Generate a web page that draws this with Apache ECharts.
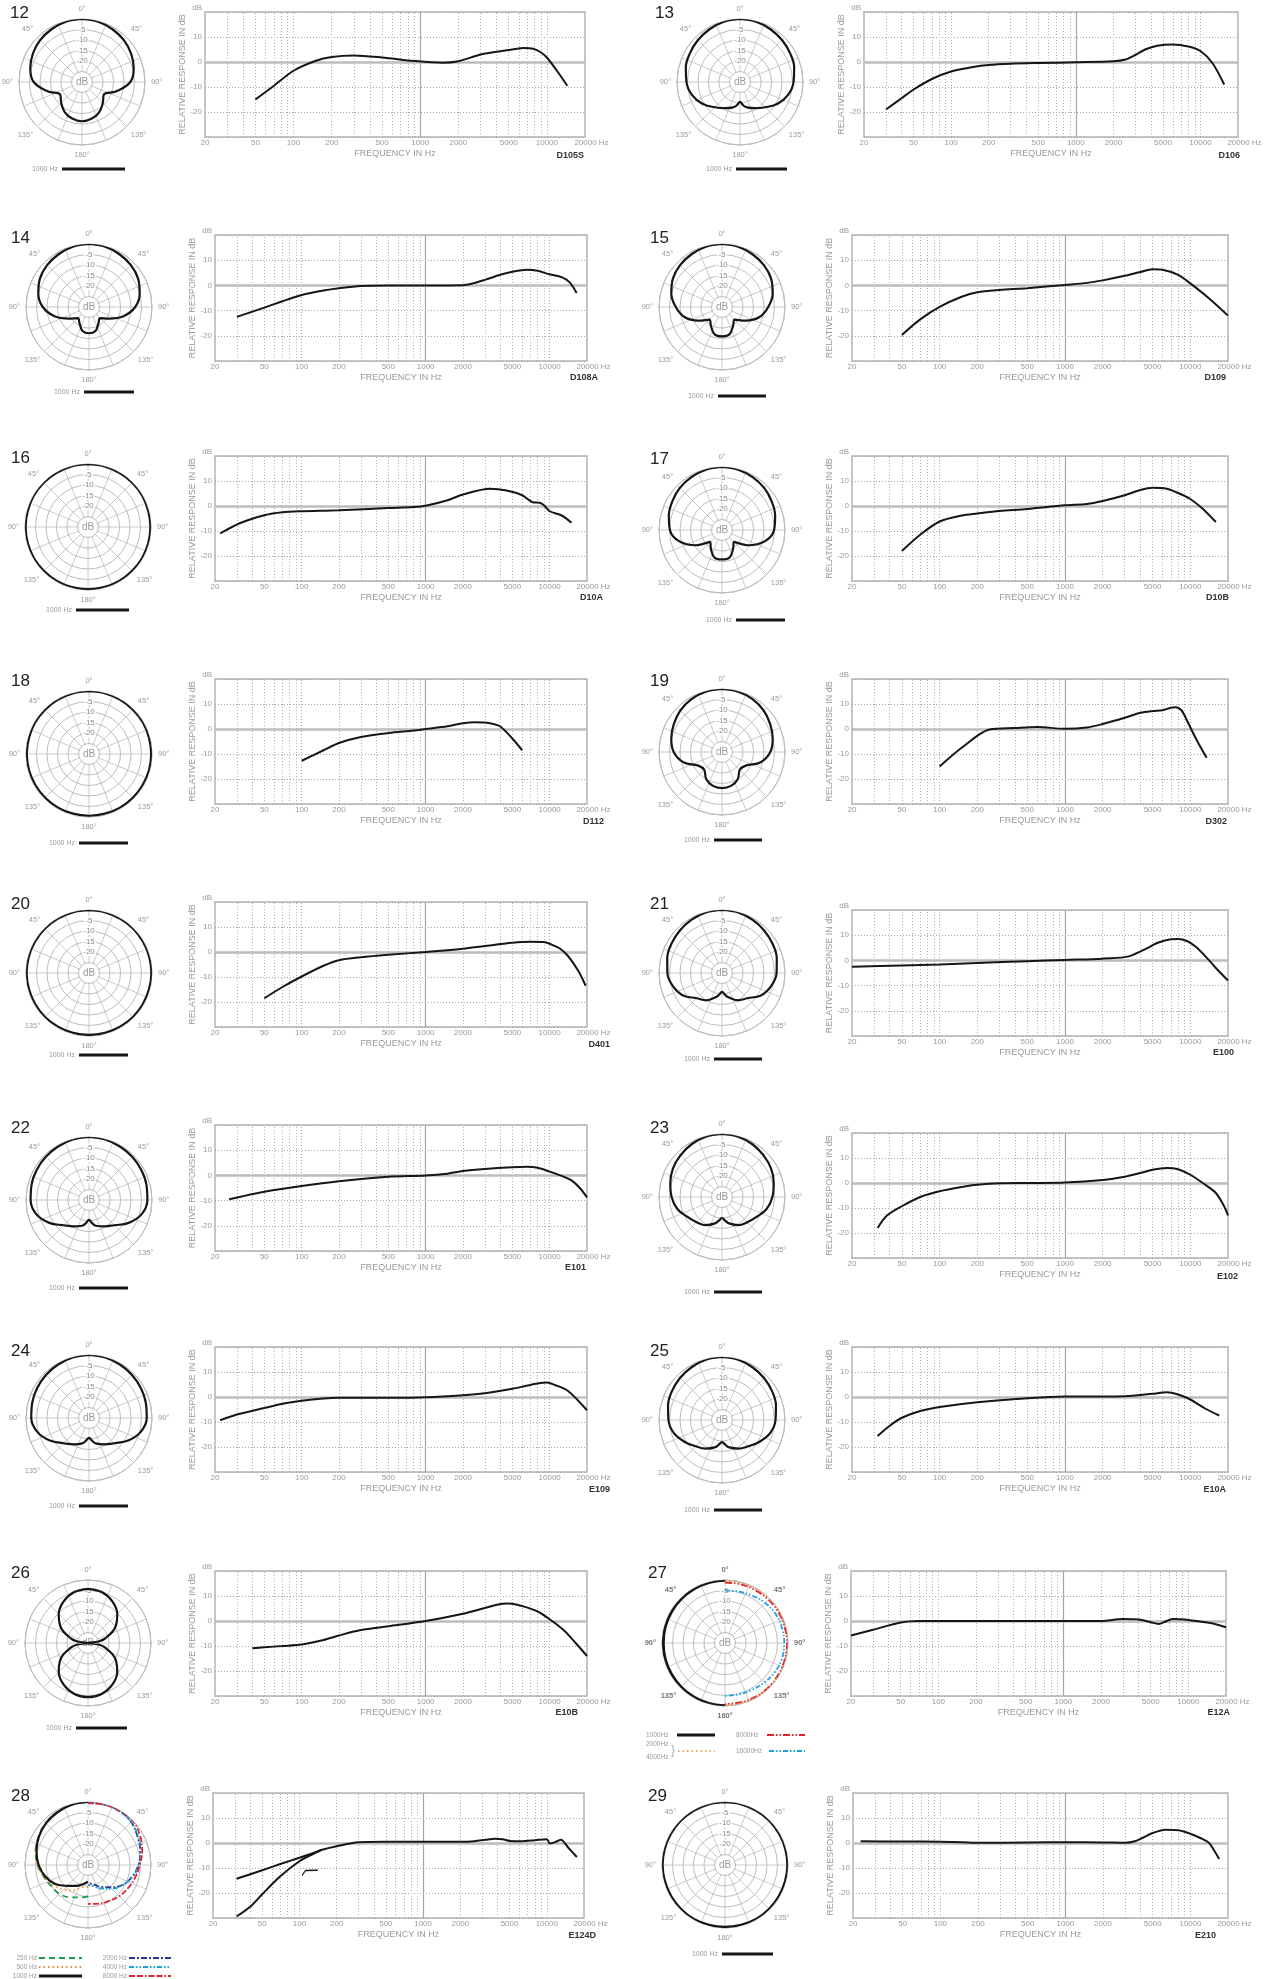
<!DOCTYPE html>
<html>
<head>
<meta charset="utf-8">
<script src="https://cdn.jsdelivr.net/npm/echarts@6/dist/echarts.min.js"></script>
<style>
  html, body { margin: 0; padding: 0; background: #fff; }
  #c { width: 1276px; height: 1979px; }
</style>
</head>
<body>
<div id="c"></div>
<script>
// ---- axis ticks ----
const tickFreqs = [20, 50, 100, 200, 500, 1000, 2000, 5000, 10000, 20000];
const gridFreqs = [30, 40, 50, 60, 70, 80, 90, 100, 200, 300, 400, 500, 600, 700, 800, 900,
  1000, 2000, 3000, 4000, 5000, 6000, 7000, 8000, 9000, 10000];

// ---- frequency responses (Hz / dB) and polar halves ([angle, dB], 0..180) ----
const d105sFreq = [50, 70, 100, 150, 200, 300, 500, 900, 1500, 2000, 3000, 4000, 5800, 6500, 7800, 9000, 10000, 12000, 14500];
const d105sDb = [-15, -9.5, -3.5, 0.5, 2, 2.6, 1.8, 0.4, -0.3, 0.3, 3, 4.1, 5.3, 5.6, 5.3, 3.8, 1.8, -3.5, -9.5];
const d105sPolar = [[0, 0], [15, -0.3], [30, -1], [45, -1.8], [60, -3], [75, -4.5], [90, -7], [105, -13], [120, -18], [135, -16], [150, -13.5], [165, -12], [180, -11.3]];

const d106Freq = [30, 40, 50, 70, 100, 150, 200, 300, 500, 1000, 2000, 2500, 3000, 3600, 4500, 6000, 8000, 10000, 12500, 15500];
const d106Db = [-19, -14.5, -11, -6.8, -3.8, -2, -1.2, -0.7, -0.4, -0.1, 0.3, 1, 2.8, 5, 6.5, 7, 6.2, 4.4, -0.5, -9];
const d106Polar = [[0, 0], [15, -0.3], [30, -1], [45, -1.7], [60, -2.5], [75, -3.3], [90, -4.5], [105, -6.3], [120, -9.3], [135, -13], [150, -15.6], [165, -17.5], [172, -18.7], [180, -20.5]];

const d108aFreq = [30, 50, 70, 100, 150, 200, 300, 500, 1000, 2000, 2400, 3000, 4000, 5000, 6500, 8000, 10000, 12500, 14500, 16500];
const d108aDb = [-12.5, -8.8, -6.3, -3.8, -2, -1.1, -0.2, 0, 0, 0.1, 0.8, 2.2, 4.2, 5.4, 6.2, 5.8, 4.4, 3.3, 1.2, -3];
const d108aPolar = [[0, 0], [15, -0.3], [30, -1], [45, -1.8], [60, -3], [75, -5], [90, -8], [105, -13], [120, -19], [135, -22.5], [150, -21], [165, -18.2], [180, -17.5]];

const d109Freq = [50, 70, 100, 150, 200, 300, 500, 1000, 1500, 2000, 3000, 4000, 5000, 6000, 8000, 10000, 14000, 20000];
const d109Db = [-19.7, -13.5, -8.5, -4.5, -2.7, -1.8, -1.1, 0.2, 1, 2, 3.8, 5.3, 6.4, 6.2, 4.2, 0.8, -5, -12];
const d109Polar = [[0, 0], [15, -0.3], [30, -1], [45, -1.8], [60, -3], [75, -5], [90, -8], [105, -11.5], [120, -17], [135, -21.5], [150, -19.5], [165, -16.5], [180, -16]];

const d10aFreq = [22, 32, 50, 70, 100, 200, 500, 800, 1000, 1500, 2000, 3300, 4500, 6000, 7300, 8300, 9000, 10000, 12500, 15000];
const d10aDb = [-11, -6.8, -3.7, -2.5, -2.1, -1.7, -0.8, -0.4, 0.1, 2.3, 4.6, 6.9, 6.2, 4.3, 1.5, 1.3, 0.3, -2.1, -3.8, -6.7];
const d10aPolar = [[0, -0.1], [15, -0.1], [30, -0.2], [45, -0.2], [60, -0.2], [75, -0.3], [90, -0.3], [105, -0.3], [120, -0.3], [135, -0.4], [150, -0.4], [165, -0.4], [180, -0.4]];

const d10bFreq = [50, 70, 100, 150, 200, 300, 500, 1000, 1500, 2000, 3000, 4000, 5000, 6500, 8000, 10000, 12500, 16000];
const d10bDb = [-18, -11.5, -6.2, -3.8, -3, -2, -1.2, 0.3, 0.8, 2, 4.3, 6.4, 7.3, 6.9, 5.2, 2.8, -1, -6.4];
const d10bPolar = [[0, 0], [15, -0.3], [30, -0.9], [45, -1.6], [60, -2.7], [75, -3.8], [90, -5.2], [105, -9], [120, -15.5], [135, -22], [150, -19.5], [165, -16.4], [180, -16]];

const d112Freq = [100, 150, 200, 300, 500, 800, 1000, 1500, 2000, 2500, 3000, 3500, 4000, 5000, 6000];
const d112Db = [-12.7, -8.5, -5.6, -3.2, -1.6, -0.6, 0, 1.1, 2.3, 2.7, 2.6, 2, 1, -3.8, -8.5];
const d112Polar = [[0, -0.1], [15, -0.1], [30, -0.2], [45, -0.3], [60, -0.3], [75, -0.4], [90, -0.4], [105, -0.4], [120, -0.5], [135, -0.5], [150, -0.5], [165, -0.6], [180, -0.6]];

const d302Freq = [100, 150, 250, 400, 600, 1000, 1500, 2000, 3000, 4000, 5000, 6000, 7000, 7600, 8500, 9500, 10700, 12000, 13500];
const d302Db = [-15, -7.5, -0.2, 0.4, 0.8, 0.1, 0.6, 2, 4.5, 6.5, 7.2, 7.5, 8.5, 8.7, 7.5, 3, -2.3, -7, -11.5];
const d302Polar = [[0, 0], [15, -0.3], [30, -0.9], [45, -2], [60, -3.5], [75, -5], [90, -7], [105, -11], [120, -17], [135, -18], [150, -15], [165, -13.3], [180, -12.8]];

const d401Freq = [50, 70, 100, 150, 200, 300, 500, 1000, 2000, 3000, 5000, 7000, 9000, 10000, 12000, 14000, 17000, 19500];
const d401Db = [-18.5, -14, -9.8, -5.5, -3.3, -2.1, -1.1, 0, 1.3, 2.4, 3.7, 4.1, 4, 3.3, 1.5, -1.5, -7.5, -13.5];
const d401Polar = [[0, -0.1], [15, -0.1], [30, -0.2], [45, -0.2], [60, -0.3], [75, -0.3], [90, -0.3], [105, -0.4], [120, -0.4], [135, -0.4], [150, -0.5], [165, -0.5], [180, -0.5]];

const e100Freq = [20, 50, 100, 200, 500, 1000, 2000, 3000, 3500, 4500, 5500, 7000, 8000, 9500, 11000, 13000, 16000, 20000];
const e100Db = [-2.5, -2, -1.6, -1, -0.3, 0.2, 0.7, 1.3, 2.2, 4.8, 7, 8.4, 8.5, 7.6, 5.5, 2, -3, -8];
const e100Polar = [[0, 0], [15, -0.2], [30, -0.8], [45, -1.5], [60, -2.2], [75, -3], [90, -4], [105, -5.8], [120, -8.6], [135, -13], [150, -15], [165, -18], [172, -19.5], [180, -21]];

const e101Freq = [26, 50, 100, 200, 500, 1000, 1500, 2000, 3000, 5000, 6500, 8000, 10000, 12500, 15000, 17500, 20000];
const e101Db = [-9.5, -6.5, -4.2, -2.3, -0.5, 0, 0.7, 1.7, 2.5, 3.2, 3.4, 3, 1.5, -0.2, -2, -5, -8.7];
const e101Polar = [[0, 0], [15, -0.2], [30, -0.6], [45, -0.9], [60, -1.3], [75, -1.7], [90, -2.2], [105, -4], [120, -8.2], [135, -13], [150, -15.5], [165, -17.3], [172, -18.8], [180, -20.5]];

const e102Freq = [32, 38, 50, 70, 100, 150, 200, 300, 500, 1000, 2000, 3000, 4000, 5000, 6500, 8000, 10000, 13000, 16000, 18500, 20000];
const e102Db = [-18, -13, -9.3, -5.6, -3.3, -1.6, -0.7, -0.1, 0, 0.2, 1.2, 2.5, 4, 5.3, 6, 5.5, 3.3, -0.5, -4, -9, -13];
const e102Polar = [[0, 0], [15, -0.3], [30, -1], [45, -2], [60, -3], [75, -4.5], [90, -6], [105, -8], [120, -11], [135, -13], [150, -14.5], [165, -17], [172, -18.5], [180, -20]];

const e109Freq = [22, 30, 50, 70, 100, 150, 200, 500, 1000, 2000, 3000, 5000, 6500, 8000, 9500, 11000, 14000, 20000];
const e109Db = [-9.3, -7, -4.4, -2.7, -1.5, -0.6, -0.3, -0.3, -0.1, 0.7, 1.5, 3.3, 4.5, 5.4, 5.8, 4.8, 2.5, -5.3];
const e109Polar = [[0, 0], [15, -0.2], [30, -0.6], [45, -1], [60, -1.5], [75, -2], [90, -2.5], [105, -4.5], [120, -8.5], [135, -13], [150, -15.5], [165, -17.5], [172, -19], [180, -20.5]];

const e10aFreq = [32, 40, 50, 70, 100, 200, 500, 1000, 2000, 3000, 5000, 6500, 8000, 10000, 13000, 17000];
const e10aDb = [-15.6, -11.5, -8.3, -5.6, -4, -2.1, -0.5, 0.2, 0.2, 0.3, 1.3, 1.9, 1, -1, -4.5, -7.4];
const e10aPolar = [[0, 0], [15, -0.3], [30, -1], [45, -1.7], [60, -2.5], [75, -3.4], [90, -4.5], [105, -6.2], [120, -9.3], [135, -12.3], [150, -14.3], [165, -16.5], [172, -18], [180, -19.5]];

const e10bFreq = [40, 50, 70, 100, 150, 200, 300, 500, 1000, 2000, 3000, 4000, 4500, 5000, 6000, 8000, 10000, 13000, 16000, 20000];
const e10bDb = [-10.9, -10.5, -10, -9.4, -7.6, -5.8, -3.6, -2.1, 0, 2.9, 5.2, 6.8, 7, 6.9, 6, 3.8, 0.7, -3.7, -8.5, -14];
const e10bPolar = [[0, -4.2], [15, -4.9], [30, -7], [45, -10.3], [60, -15], [75, -21.5], [82, -25], [90, -30], [98, -25], [105, -21.5], [120, -15], [135, -10.3], [150, -7], [165, -4.9], [180, -4.2]];

const e12aFreq = [20, 30, 50, 70, 100, 1000, 2000, 3000, 4000, 5000, 5800, 6500, 7500, 8500, 10000, 15000, 20000];
const e12aDb = [-5.8, -3.5, -0.6, 0, 0, 0, 0, 0.8, 0.6, -0.5, -1.2, -0.3, 0.8, 0.7, 0.4, -0.8, -2.5];
const e12aPolar1000 = [[0, -0.1], [15, -0.2], [30, -0.3], [45, -0.4], [60, -0.5], [75, -0.5], [90, -0.6], [105, -0.5], [120, -0.5], [135, -0.4], [150, -0.3], [165, -0.2], [180, -0.1]];
const e12aPolar2k4k = [[0, -0.4], [15, -0.4], [30, -0.3], [45, -0.3], [60, -0.2], [75, -0.2], [90, -0.2], [105, -0.2], [120, -0.2], [135, -0.3], [150, -0.3], [165, -0.4], [180, -0.4]];
const e12aPolar8k = [[0, -1.2], [15, -1.1], [30, -1], [45, -0.8], [60, -0.7], [75, -0.6], [90, -0.5], [105, -0.5], [120, -0.5], [135, -0.5], [150, -0.6], [165, -0.8], [180, -0.9]];
const e12aPolar16k = [[0, -5], [15, -4.7], [30, -4], [45, -3], [60, -2.2], [75, -1.9], [90, -1.8], [105, -1.9], [120, -2.5], [135, -3.5], [150, -4.3], [165, -4.7], [180, -4.8]];

const e124dFreq = [31, 50, 70, 100, 130, 150, 200, 300, 500, 1000, 2000, 2600, 3200, 3800, 4400, 5000, 6300, 8000, 10000, 10600, 12000, 13000, 15000, 17500];
const e124dDb = [-14.3, -10.9, -8.4, -5.9, -4, -2.8, -1.3, 0.3, 0.5, 0.5, 0.5, 0.7, 1.3, 1.7, 1.5, 0.8, 0.7, 1.1, 1.5, -0.2, 0.6, 1.3, -2, -5.6];
const e124dLowFreq = [31, 40, 50, 70, 100, 130, 150];
const e124dLowDb = [-29.4, -25.5, -20.5, -13.3, -7.3, -4.3, -2.8];
const e124dFragFreq = [105, 112, 141];
const e124dFragDb = [-13, -11, -10.9];
const e124dPolar250 = [[0, 0], [15, -0.2], [30, -0.8], [45, -1.6], [60, -2.8], [75, -4.2], [90, -6], [105, -8.2], [120, -9.8], [135, -10.6], [150, -12.3], [165, -14], [180, -15]];
const e124dPolar500 = [[0, 0], [15, -0.2], [30, -0.9], [45, -1.7], [60, -2.9], [75, -4.2], [90, -5.8], [105, -8.3], [120, -11], [135, -13.5], [150, -16], [165, -19], [180, -19.5]];
const e124dPolar1000 = [[0, 0], [15, -0.3], [30, -1], [45, -1.8], [60, -3], [75, -4.6], [90, -6.5], [105, -9], [120, -12], [135, -16], [150, -18.5], [165, -20.5], [180, -22]];
const e124dPolar2000 = [[0, 0], [15, 0], [30, -0.2], [45, -1], [60, -2.8], [75, -4.3], [90, -6], [105, -8.3], [120, -11], [135, -15], [150, -18], [165, -20.5], [180, -21.5]];
const e124dPolar4000 = [[0, -0.5], [15, -0.3], [30, -0.5], [45, -1], [60, -2.5], [75, -4], [90, -5.8], [105, -8], [120, -11], [135, -14], [150, -17], [165, -19.5], [180, -20.5]];
const e124dPolar8000 = [[0, -0.5], [15, -0.3], [30, -0.1], [45, 0], [60, -1.5], [75, -3.3], [90, -5.3], [105, -6.8], [120, -8], [135, -9], [150, -10.2], [165, -11], [180, -11.5]];

const e210Freq = [23, 50, 100, 150, 200, 500, 1000, 2000, 3000, 3600, 4200, 5000, 6300, 8000, 10000, 12000, 14000, 15500, 17000];
const e210Db = [0.7, 0.6, 0.5, 0.3, 0.1, 0.2, 0.3, 0.2, 0.1, 0.7, 2.2, 4, 5.3, 5.1, 3.7, 2, 0.2, -3, -6.4];
const e210Polar = [[0, -0.1], [15, -0.1], [30, -0.2], [45, -0.2], [60, -0.3], [75, -0.3], [90, -0.3], [105, -0.4], [120, -0.4], [135, -0.4], [150, -0.4], [165, -0.5], [180, -0.5]];

const panels = [
  {n: '12', m: 'D105S', f: d105sFreq, v: d105sDb, pol: d105sPolar},
  {n: '13', m: 'D106', f: d106Freq, v: d106Db, pol: d106Polar},
  {n: '14', m: 'D108A', f: d108aFreq, v: d108aDb, pol: d108aPolar},
  {n: '15', m: 'D109', f: d109Freq, v: d109Db, pol: d109Polar},
  {n: '16', m: 'D10A', f: d10aFreq, v: d10aDb, pol: d10aPolar},
  {n: '17', m: 'D10B', f: d10bFreq, v: d10bDb, pol: d10bPolar},
  {n: '18', m: 'D112', f: d112Freq, v: d112Db, pol: d112Polar},
  {n: '19', m: 'D302', f: d302Freq, v: d302Db, pol: d302Polar},
  {n: '20', m: 'D401', f: d401Freq, v: d401Db, pol: d401Polar},
  {n: '21', m: 'E100', f: e100Freq, v: e100Db, pol: e100Polar},
  {n: '22', m: 'E101', f: e101Freq, v: e101Db, pol: e101Polar},
  {n: '23', m: 'E102', f: e102Freq, v: e102Db, pol: e102Polar},
  {n: '24', m: 'E109', f: e109Freq, v: e109Db, pol: e109Polar},
  {n: '25', m: 'E10A', f: e10aFreq, v: e10aDb, pol: e10aPolar},
  {n: '26', m: 'E10B', f: e10bFreq, v: e10bDb, pol: e10bPolar},
  {n: '27', m: 'E12A', f: e12aFreq, v: e12aDb, pol: null},
  {n: '28', m: 'E124D', f: e124dFreq, v: e124dDb, pol: null},
  {n: '29', m: 'E210', f: e210Freq, v: e210Db, pol: e210Polar}
];

// page positions: g = chart frame [x1,y1,x2,y2], p = polar centre, leg = [lineX1, lineX2, y]
const layout = [
  {g: [205, 12, 585, 137], p: [82, 82], num: [10, 5], model: [584, 156], leg: [62, 125, 169]},
  {g: [864, 12, 1238, 137], p: [740, 82], num: [655, 5], model: [1240, 156], leg: [736, 787, 169]},
  {g: [215, 235, 587, 361], p: [89, 307], num: [11, 230], model: [598, 378], leg: [84, 134, 392]},
  {g: [852, 235, 1228, 361], p: [722, 307], num: [650, 230], model: [1226, 378], leg: [718, 766, 396]},
  {g: [215, 456, 587, 581], p: [88, 527], num: [11, 450], model: [603, 598], leg: [76, 129, 610]},
  {g: [852, 456, 1228, 581], p: [722, 530], num: [650, 451], model: [1229, 598], leg: [736, 785, 620]},
  {g: [215, 679, 587, 804], p: [89, 754], num: [11, 673], model: [604, 822], leg: [79, 128, 843]},
  {g: [852, 679, 1228, 804], p: [722, 752], num: [650, 673], model: [1227, 822], leg: [714, 762, 840]},
  {g: [215, 902, 587, 1027], p: [89, 973], num: [11, 896], model: [610, 1045], leg: [79, 128, 1055]},
  {g: [852, 910, 1228, 1036], p: [722, 973], num: [650, 896], model: [1234, 1053], leg: [714, 762, 1059]},
  {g: [215, 1125, 587, 1251], p: [89, 1200], num: [11, 1120], model: [586, 1268], leg: [79, 128, 1288]},
  {g: [852, 1133, 1228, 1258], p: [722, 1197], num: [650, 1120], model: [1238, 1277], leg: [714, 762, 1292]},
  {g: [215, 1347, 587, 1472], p: [89, 1418], num: [11, 1343], model: [610, 1490], leg: [79, 128, 1506]},
  {g: [852, 1347, 1228, 1472], p: [722, 1420], num: [650, 1343], model: [1226, 1490], leg: [714, 762, 1510]},
  {g: [215, 1571, 587, 1696], p: [88, 1643], num: [11, 1565], model: [578, 1713], leg: [76, 127, 1728]},
  {g: [851, 1571, 1226, 1696], p: [725, 1643], num: [648, 1565], model: [1230, 1713], leg: null},
  {g: [213, 1793, 584, 1918], p: [88, 1865], num: [11, 1788], model: [596, 1936], leg: null},
  {g: [853, 1793, 1228, 1918], p: [725, 1865], num: [648, 1788], model: [1216, 1936], leg: [722, 773, 1954]}
];

const FONT = '"Liberation Sans", Arial, Helvetica, sans-serif';
const GREY = '#9a9a9a';
const INK = '#161616';
const R = 63;

const grids = [], xAxes = [], yAxes = [], polars = [], angleAxes = [], radiusAxes = [], series = [], graphics = [];

// half pattern -> [dB, angle] pairs for ECharts polar
function mirror(half) {
  const a = half.map(p => [p[1], p[0]]);
  const b = half.slice(0, -1).reverse().map(p => [p[1], 360 - p[0]]);
  return a.concat(b);
}
// left side, walked from 180 up to 360
function leftHalf(half) { return half.slice().reverse().map(p => [p[1], 360 - p[0]]); }
function rightHalf(half) { return half.map(p => [p[1], p[0]]); }
function pairs(f, v) { return f.map((x, k) => [x, v[k]]); }

function text(x, y, str, st) {
  graphics.push({type: 'text', x: x, y: y, silent: true,
    style: Object.assign({text: str, fontFamily: FONT, fontSize: 7, fill: GREY, align: 'left', verticalAlign: 'middle'}, st || {})});
}
function hline(x1, x2, y, color, w, dash) {
  graphics.push({type: 'line', silent: true, shape: {x1: x1, y1: y, x2: x2, y2: y},
    style: {stroke: color, lineWidth: w, lineDash: dash || null}});
}

function tickLabel(f) {
  if (!tickFreqs.includes(f)) return {show: false};
  const lab = {show: true, position: 'start', distance: 2, color: GREY, fontSize: 8, fontFamily: FONT, formatter: String(f)};
  if (f === 20000) { lab.formatter = '20000 Hz'; lab.padding = [0, 0, 0, 13]; }
  return lab;
}

function addPolarCurve(i, data, color, width, dash, z) {
  series.push({type: 'line', coordinateSystem: 'polar', polarIndex: i, data: data, showSymbol: false,
    smooth: 0.4, clip: false, silent: true, z: z || 10, animation: false,
    lineStyle: {color: color, width: width, type: dash || 'solid'}});
}

panels.forEach((pn, i) => {
  const L = layout[i];
  const [x1, y1, x2, y2] = L.g;

  // ---------- frequency response ----------
  grids.push({left: x1, top: y1, width: x2 - x1, height: y2 - y1, show: true,
    borderColor: '#b4b4b4', borderWidth: 1.5, backgroundColor: 'transparent'});
  xAxes.push({gridIndex: i, type: 'log', logBase: 10, min: 20, max: 20000,
    name: 'FREQUENCY IN Hz', nameLocation: 'middle', nameGap: 12,
    nameTextStyle: {color: GREY, fontSize: 9, fontFamily: FONT},
    axisLine: {show: false}, axisTick: {show: false}, axisLabel: {show: false}, splitLine: {show: false}});
  yAxes.push({gridIndex: i, type: 'value', min: -30, max: 20, interval: 10,
    name: 'RELATIVE RESPONSE IN dB', nameLocation: 'middle', nameGap: 15,
    nameTextStyle: {color: GREY, fontSize: 9, fontFamily: FONT},
    axisLine: {show: false}, axisTick: {show: false},
    axisLabel: {fontSize: 8, color: GREY, fontFamily: FONT, margin: 3,
      formatter: v => v === 20 ? '{d|dB}' : (v === -30 ? '' : String(v)),
      rich: {d: {fontSize: 8, color: GREY, fontFamily: FONT, padding: [0, 0, 9, 0]}}},
    splitLine: {lineStyle: {color: '#a8a8a8', type: [1, 2], width: 1}}});

  const marks = [20].concat(gridFreqs, [20000]).map(f => {
    const edge = f === 20 || f === 20000;
    return {xAxis: f, label: tickLabel(f),
      lineStyle: {color: edge ? 'rgba(0,0,0,0)' : (f === 1000 ? '#a6a6a6' : '#b0b0b0'),
        width: f === 1000 ? 1.2 : 1, type: f === 1000 ? 'solid' : [1, 2]}};
  });
  marks.push({yAxis: 0, label: {show: false}, lineStyle: {color: '#bdbdbd', width: 2.5, type: 'solid'}});
  series.push({type: 'line', xAxisIndex: i, yAxisIndex: i, data: [], silent: true, animation: false,
    markLine: {silent: true, symbol: ['none', 'none'], animation: false, data: marks}});

  series.push({type: 'line', xAxisIndex: i, yAxisIndex: i, data: pairs(pn.f, pn.v), showSymbol: false,
    smooth: 0.3, silent: true, z: 10, animation: false, lineStyle: {color: INK, width: 2}});
  if (pn.n === '28') {
    series.push({type: 'line', xAxisIndex: i, yAxisIndex: i, data: pairs(e124dLowFreq, e124dLowDb), showSymbol: false,
      smooth: 0.3, silent: true, z: 10, animation: false, lineStyle: {color: INK, width: 2}});
    series.push({type: 'line', xAxisIndex: i, yAxisIndex: i, data: pairs(e124dFragFreq, e124dFragDb), showSymbol: false,
      silent: true, z: 10, animation: false, lineStyle: {color: INK, width: 1.3}});
  }

  // ---------- polar ----------
  const strong = pn.n === '27';
  polars.push({center: L.p, radius: R});
  angleAxes.push({polarIndex: i, type: 'value', min: 0, max: 360, interval: 22.5, startAngle: 90, clockwise: true, z: 0,
    axisLine: {lineStyle: {color: '#b4b4b4', width: 1}}, axisTick: {show: false},
    splitLine: {lineStyle: {color: '#bdbdbd', width: 0.8}},
    axisLabel: {margin: 6, fontSize: 7.5, fontFamily: FONT, color: strong ? '#777' : GREY, fontWeight: strong ? 'bold' : 'normal',
      formatter: v => (v % 45) ? '' : (v <= 180 ? v : 360 - v) + '°'}});
  radiusAxes.push({polarIndex: i, type: 'value', min: -30, max: 0, interval: 5, z: 1,
    axisLine: {show: false}, axisTick: {show: false},
    splitLine: {lineStyle: {color: '#bdbdbd', width: 1}},
    axisLabel: {margin: 0, align: 'center', verticalAlign: 'middle',
      formatter: v => v === -30 ? '{c|dB}' : (v < 0 && v > -25 ? '{n|' + v + '}' : ''),
      rich: {
        n: {fontSize: 8, color: '#8a8a8a', fontFamily: FONT, backgroundColor: '#fff', padding: [0, 1]},
        c: {fontSize: 10, color: GREY, fontFamily: FONT, backgroundColor: '#fff', width: 19, height: 19,
          lineHeight: 19, borderRadius: 10, align: 'center'}
      }}});

  if (pn.pol) {
    addPolarCurve(i, mirror(pn.pol), INK, 2.2);
  } else if (pn.n === '27') {
    addPolarCurve(i, rightHalf(e12aPolar2k4k), '#f08a2c', 1.8, [1.5, 3], 11);
    addPolarCurve(i, rightHalf(e12aPolar8k), '#e3212b', 1.8, [7, 2, 1.5, 2, 1.5, 2], 10);
    addPolarCurve(i, rightHalf(e12aPolar16k), '#1aa3e0', 1.8, [5, 2, 1.5, 2, 1.5, 2], 10);
    addPolarCurve(i, leftHalf(e12aPolar1000), INK, 3, null, 12);
  } else if (pn.n === '28') {
    addPolarCurve(i, leftHalf(e124dPolar250), '#1f9d4c', 1.8, [6, 4]);
    addPolarCurve(i, leftHalf(e124dPolar500), '#f08a2c', 1.8, [1.5, 3]);
    addPolarCurve(i, leftHalf(e124dPolar1000), INK, 2.2);
    addPolarCurve(i, rightHalf(e124dPolar2000), '#2c3a8f', 1.8, [6, 2, 2, 2]);
    addPolarCurve(i, rightHalf(e124dPolar4000), '#1aa3e0', 1.8, [5, 2, 1.5, 2, 1.5, 2]);
    addPolarCurve(i, rightHalf(e124dPolar8000), '#e3212b', 1.8, [6, 2, 6, 2, 1.5, 2]);
  }

  // ---------- texts ----------
  text(L.num[0], L.num[1], pn.n, {fontSize: 17, fill: '#222', verticalAlign: 'top'});
  text(L.model[0], L.model[1], pn.m, {fontSize: 9, fontWeight: 'bold', fill: '#333', align: 'right'});
  if (L.leg) {
    text(L.leg[0] - 4, L.leg[2], '1000 Hz', {align: 'right'});
    hline(L.leg[0], L.leg[1], L.leg[2], INK, 3);
  }
});

// multi-frequency legends (27, 28)
text(646, 1735, '1000Hz', {fontSize: 6.5});
hline(677, 715, 1735, INK, 3);
text(646, 1744, '2000Hz', {fontSize: 6.5});
text(646, 1757, '4000Hz', {fontSize: 6.5});
text(671, 1751, '}', {fontSize: 12, fill: '#aaa'});
hline(678, 715, 1751, '#f08a2c', 1.6, [1.5, 3]);
text(736, 1735, '8000Hz', {fontSize: 6.5});
hline(767, 805, 1735, '#e3212b', 1.8, [7, 2, 1.5, 2, 1.5, 2]);
text(736, 1751, '16000Hz', {fontSize: 6.5});
hline(769, 805, 1751, '#1aa3e0', 1.8, [5, 2, 1.5, 2, 1.5, 2]);

const leg28 = [
  [37, 39, 82, 1958, '250 Hz', '#1f9d4c', 1.8, [6, 4]],
  [37, 39, 82, 1967, '500 Hz', '#f08a2c', 1.8, [1.5, 3]],
  [37, 39, 82, 1976, '1000 Hz', INK, 3, null],
  [127, 129, 171, 1958, '2000 Hz', '#2c3a8f', 1.8, [6, 2, 2, 2]],
  [127, 129, 171, 1967, '4000 Hz', '#1aa3e0', 1.8, [5, 2, 1.5, 2, 1.5, 2]],
  [127, 129, 171, 1976, '8000 Hz', '#e3212b', 1.8, [6, 2, 6, 2, 1.5, 2]]
];
leg28.forEach(r => {
  text(r[0], r[3], r[4], {fontSize: 6.5, align: 'right'});
  hline(r[1], r[2], r[3], r[5], r[6], r[7]);
});

const chart = echarts.init(document.getElementById('c'));
chart.setOption({
  animation: false,
  backgroundColor: '#fff',
  textStyle: {fontFamily: FONT},
  grid: grids,
  xAxis: xAxes,
  yAxis: yAxes,
  polar: polars,
  angleAxis: angleAxes,
  radiusAxis: radiusAxes,
  series: series,
  graphic: {elements: graphics}
});
</script>
</body>
</html>
